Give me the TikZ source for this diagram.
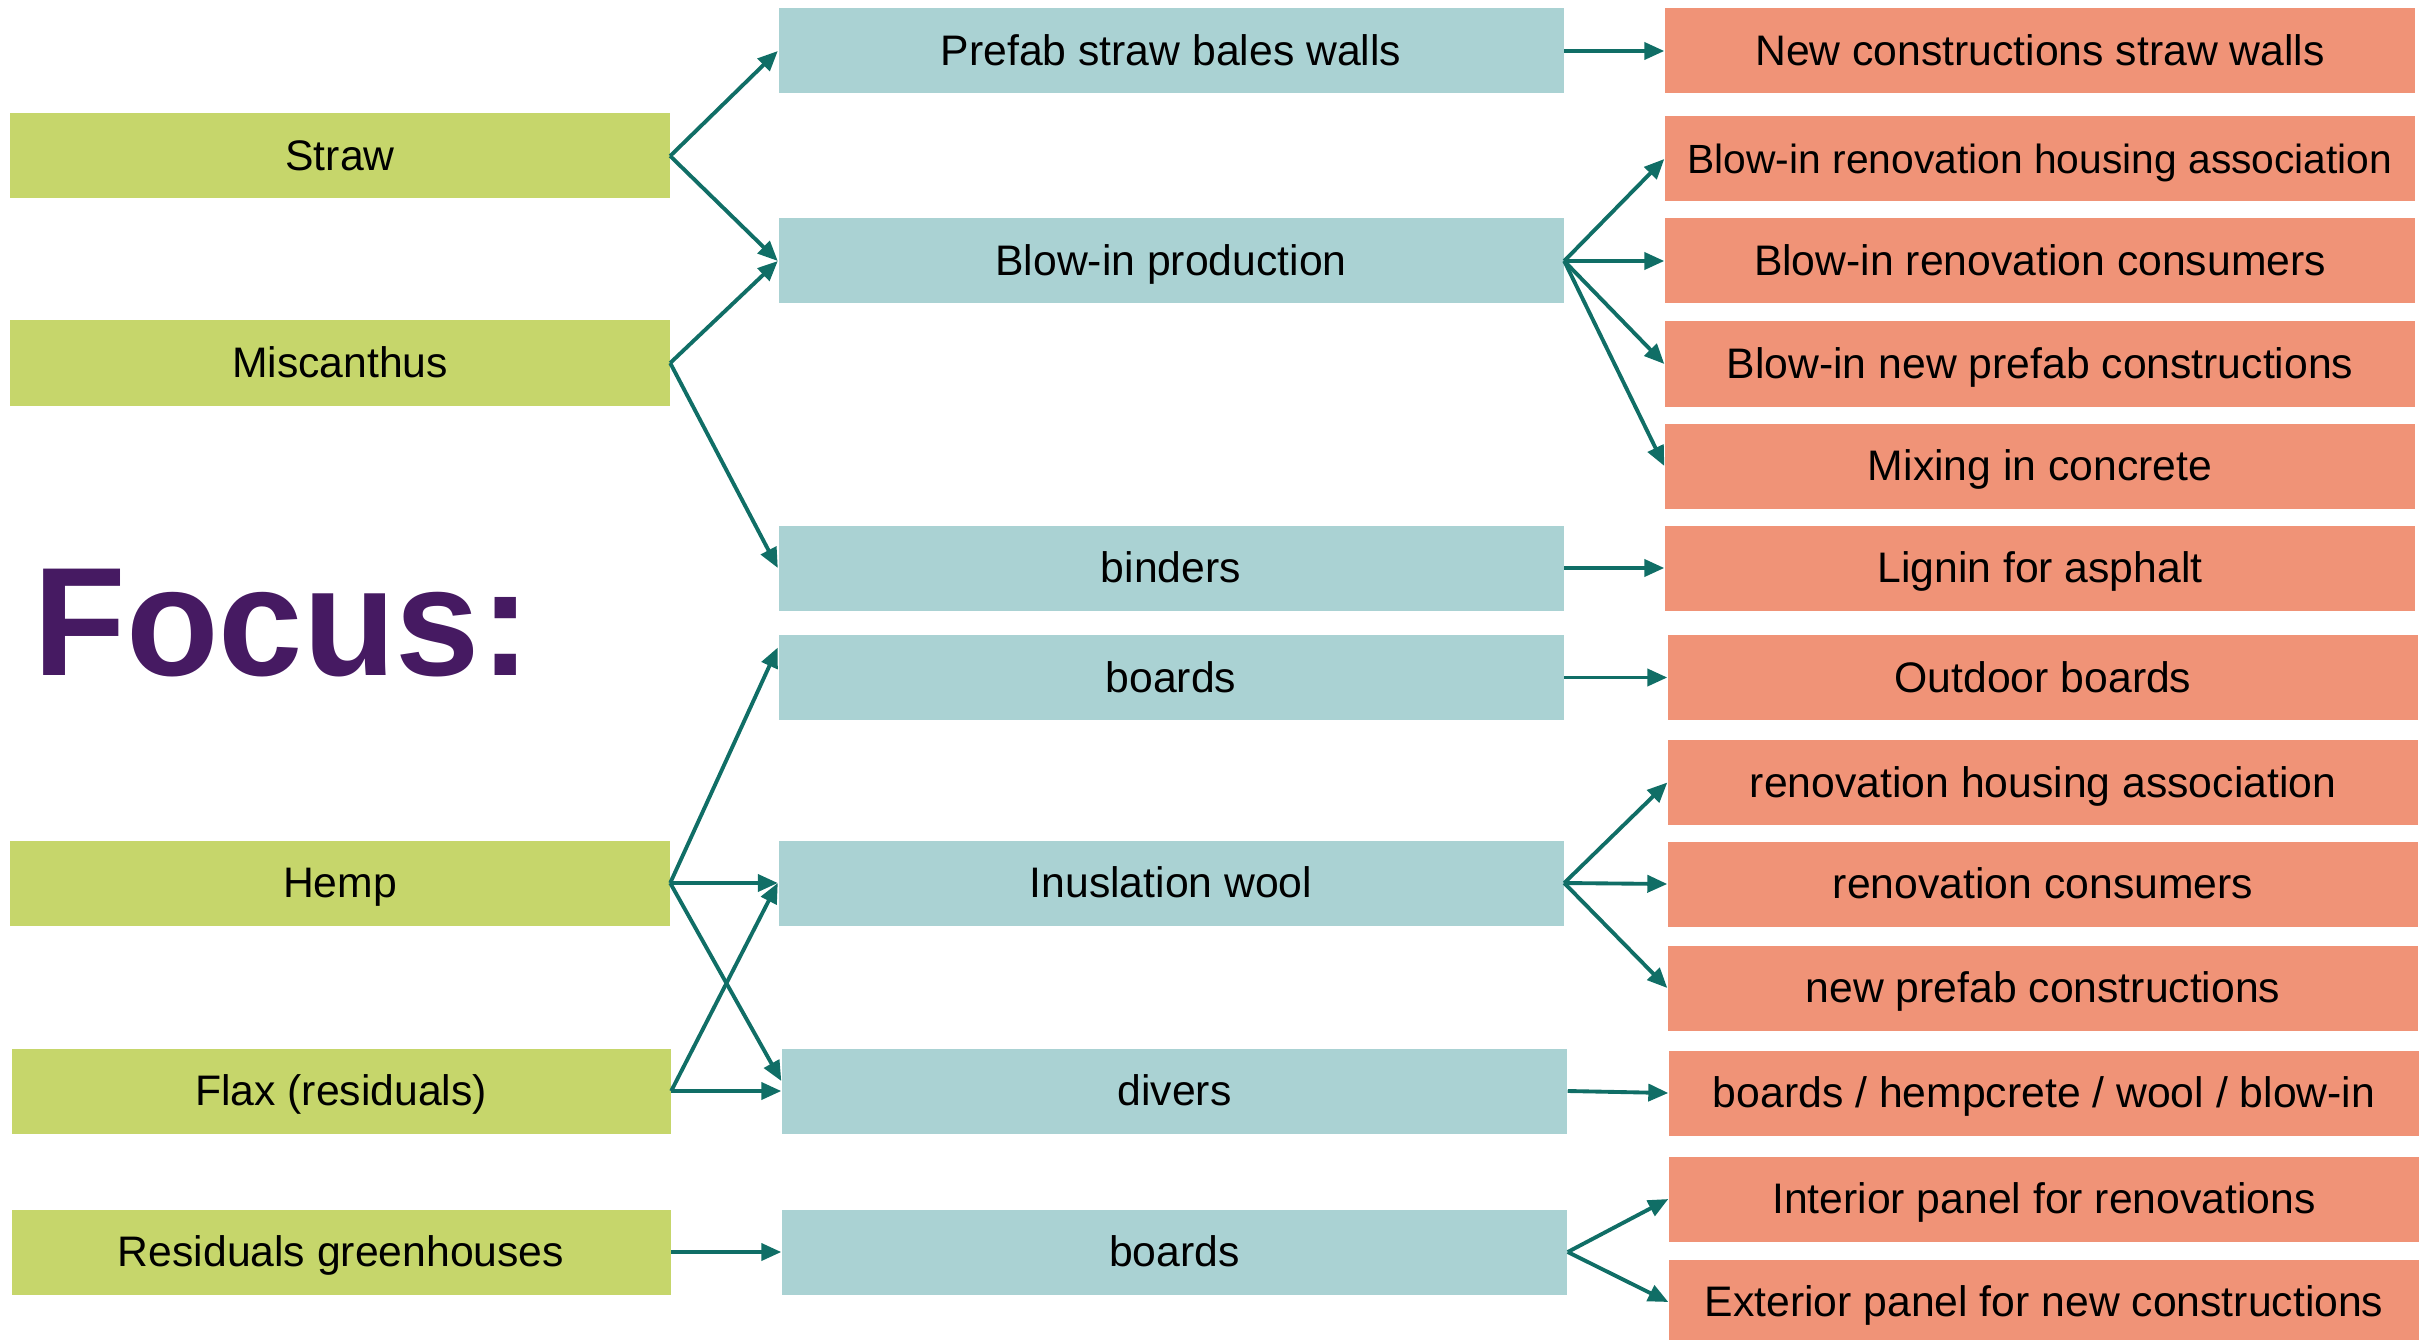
\documentclass[tikz,border=0pt]{standalone}
\usepackage{fontspec}
\setmainfont{Liberation Sans}
\usepackage{tikz}
\usetikzlibrary{arrows.meta}
\definecolor{verde}{HTML}{C6D66B}
\definecolor{azul}{HTML}{AAD2D3}
\definecolor{salmao}{HTML}{F09377}
\definecolor{seta}{HTML}{106E66}
\definecolor{roxo}{HTML}{461A62}

\begin{document}
\begin{tikzpicture}[
    caixa/.style={minimum height=0.85cm, inner sep=0pt, text height=11pt, text depth=2.7pt},
    materia/.style={caixa, fill=verde, minimum width=6.59cm},
    processo/.style={caixa, fill=azul, minimum width=7.85cm},
    mercado/.style={caixa, fill=salmao, minimum width=7.5cm},
    fluxo/.style={draw=seta, line width=1.1pt, -{Triangle[length=2mm,width=1.7mm]}},
    font=\fontsize{12.15}{14}\selectfont
  ]
    % Moldura da figura
    \useasboundingbox (0,0) rectangle (24.2,-13.4);

    % Titulo
    \node[anchor=base west, inner sep=0pt, text=roxo, font=\fontsize{44}{50}\selectfont\bfseries] (foco) at (0.33,-6.757) {\scalebox{0.98}[1]{Focus:}};

    % Materias-primas
    \node[materia] (straw) at (3.40,-1.56) {Straw};
    \node[materia] (miscanthus) at (3.40,-3.63) {Miscanthus};
    \node[materia] (hemp) at (3.40,-8.83) {Hemp};
    \node[materia] (flax) at (3.41,-10.91) {Flax (residuals)};
    \node[materia] (residuos) at (3.41,-12.52) {Residuals greenhouses};

    % Processos
    \node[processo] (prefab) at (11.71,-0.51) {Prefab straw bales walls};
    \node[processo] (blowin) at (11.71,-2.61) {Blow-in production};
    \node[processo] (binders) at (11.71,-5.68) {binders};
    \node[processo] (boardsA) at (11.71,-6.775) {boards};
    \node[processo] (wool) at (11.71,-8.83) {Inuslation wool};
    \node[processo] (divers) at (11.745,-10.91) {divers};
    \node[processo] (boardsB) at (11.745,-12.52) {boards};

    % Mercados
    \node[mercado] (newcon) at (20.40,-0.51) {New constructions straw walls};
    \node[mercado, font=\fontsize{11.6}{14}\selectfont] (birha) at (20.40,-1.59) {Blow-in renovation housing association};
    \node[mercado] (birc) at (20.40,-2.61) {Blow-in renovation consumers};
    \node[mercado] (binpc) at (20.40,-3.64) {Blow-in new prefab constructions};
    \node[mercado] (mixing) at (20.40,-4.66) {Mixing in concrete};
    \node[mercado] (lignin) at (20.40,-5.68) {Lignin for asphalt};
    \node[mercado] (outdoor) at (20.43,-6.775) {Outdoor boards};
    \node[mercado] (rha) at (20.43,-7.825) {renovation housing association};
    \node[mercado] (rc) at (20.43,-8.84) {renovation consumers};
    \node[mercado] (npc) at (20.43,-9.88) {new prefab constructions};
    \node[mercado] (varios) at (20.44,-10.93) {boards / hempcrete / wool / blow-in};
    \node[mercado] (interior) at (20.44,-11.99) {Interior panel for renovations};
    \node[mercado] (exterior) at (20.44,-13.02) {Exterior panel for new constructions};

    % Setas materias -> processos
    \draw[fluxo] (straw.east) -- (prefab.west);
    \draw[fluxo] (straw.east) -- (blowin.west);
    \draw[fluxo] (miscanthus.east) -- (blowin.west);
    \draw[fluxo] (miscanthus.east) -- (binders.west);
    \draw[fluxo] (hemp.east) -- ([yshift=3mm]boardsA.west);
    \draw[fluxo] (hemp.east) -- (wool.west);
    \draw[fluxo] (hemp.east) -- ([yshift=1mm]divers.west);
    \draw[fluxo] (flax.east) -- (wool.west);
    \draw[fluxo] (flax.east) -- (divers.west);
    \draw[fluxo] (residuos.east) -- (boardsB.west);

    % Setas processos -> mercados
    \draw[fluxo] (prefab.east) -- (newcon.west);
    \draw[fluxo] (blowin.east) -- (birha.west);
    \draw[fluxo] (blowin.east) -- (birc.west);
    \draw[fluxo] (blowin.east) -- (binpc.west);
    \draw[fluxo] (blowin.east) -- (mixing.west);
    \draw[fluxo] (binders.east) -- (lignin.west);
    \draw[fluxo] (boardsA.east) -- (outdoor.west);
    \draw[fluxo] (wool.east) -- (rha.west);
    \draw[fluxo] (wool.east) -- (rc.west);
    \draw[fluxo] (wool.east) -- (npc.west);
    \draw[fluxo] (divers.east) -- (varios.west);
    \draw[fluxo] (boardsB.east) -- (interior.west);
    \draw[fluxo] (boardsB.east) -- (exterior.west);
\end{tikzpicture}
\end{document}
